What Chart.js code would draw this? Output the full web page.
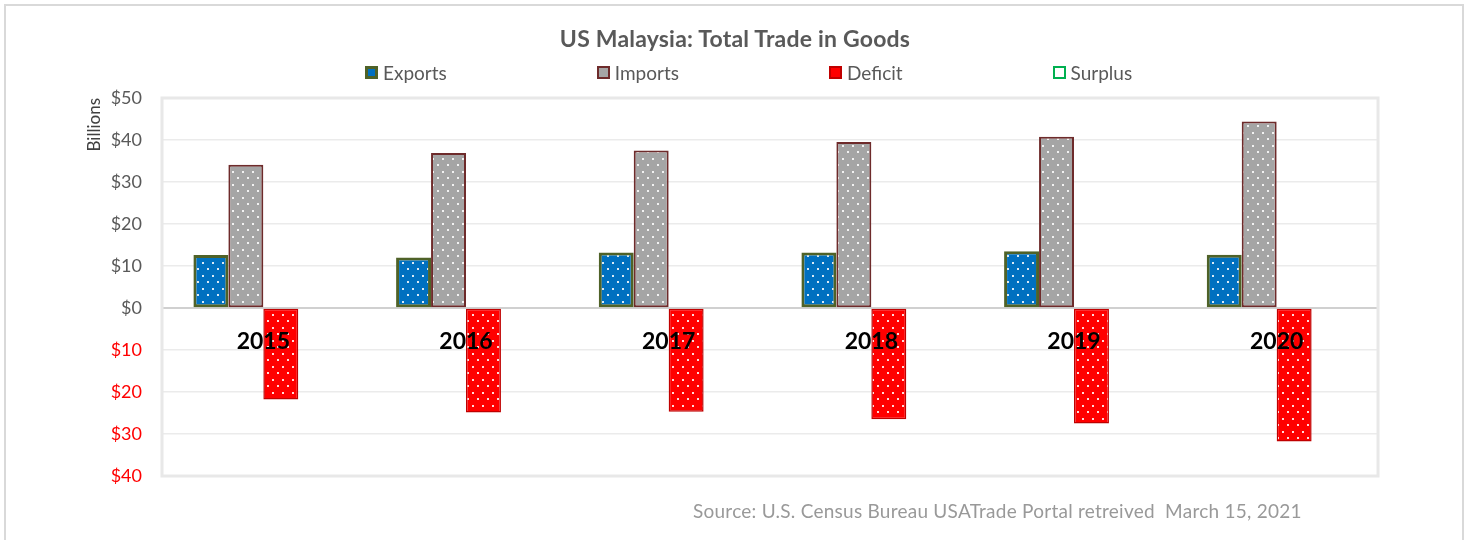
<!DOCTYPE html>
<html>
<head>
<meta charset="utf-8">
<script src="https://cdn.jsdelivr.net/npm/chart.js@4.4.1/dist/chart.umd.min.js"></script>
<style>
  html, body { margin: 0; padding: 0; background: #fff; }
  #wrap { position: relative; width: 1470px; height: 540px; overflow: hidden; }
  #frame { position: absolute; left: 4px; top: 4px; width: 1460px; height: 620px; border: 2px solid #d9d9d9; box-sizing: border-box; }
  #chart { position: absolute; left: 0; top: 0; }
  #title { position: absolute; left: 0; top: 24px; width: 1470px; text-align: center; font-family: Lato, sans-serif; font-weight: bold; font-size: 23px; line-height: 28px; letter-spacing: 0.2px; color: #595959; }
  #legend { position: absolute; top: 61px; left: 365px; display: flex; align-items: center; gap: 150px; font-family: Lato, sans-serif; font-size: 19px; color: #595959; white-space: nowrap; }
  .li { display: flex; align-items: center; }
  .lb { width: 13px; height: 13px; box-sizing: border-box; margin-right: 5px; }
  #source { position: absolute; left: 693px; top: 499px; font-family: Lato, sans-serif; font-size: 19px; letter-spacing: 0.25px; color: #999999; white-space: pre; }
</style>
</head>
<body>
<div id="wrap">
  <div id="frame"></div>
  <canvas id="chart" width="1470" height="540"></canvas>
  <div id="title"></div>
  <div id="legend"></div>
  <div id="source">Source: U.S. Census Bureau USATrade Portal retreived  March 15, 2021</div>
</div>
<script>
// ---- data (billions USD) ----
const years = ['2015', '2016', '2017', '2018', '2019', '2020'];
const exportsVals = [12.6, 12.0, 13.2, 13.2, 13.5, 12.7];
const importsVals = [34.1, 36.9, 37.5, 39.5, 40.8, 44.4];
const deficitVals = [-21.8, -24.9, -24.7, -26.5, -27.5, -31.8];
const surplusVals = [0, 0, 0, 0, 0, 0];
const seriesNames = ['Exports', 'Imports', 'Deficit', 'Surplus'];
const yMin = -40, yMax = 50, yStep = 10;
const chartTitle = 'US Malaysia: Total Trade in Goods';
const yTitle = 'Billions';

document.getElementById('title').textContent = chartTitle;

function dotted(color) {
  const c = document.createElement('canvas');
  c.width = 10; c.height = 13;
  const g = c.getContext('2d');
  g.fillStyle = color; g.fillRect(0, 0, 10, 13);
  g.fillStyle = 'rgba(255,255,255,0.85)';
  g.fillRect(2, 2, 2, 2);
  g.fillRect(7, 8, 2, 2);
  return g.createPattern(c, 'repeat');
}

const styles = [
  { fill: '#0070c0', border: '#4f6228', bw: 3 },
  { fill: '#a5a5a5', border: '#6e2b2b', bw: 2 },
  { fill: '#ff0000', border: '#c00000', bw: 1.5 },
  { fill: '#ffffff', border: '#00b050', bw: 2 }
];
const values = [exportsVals, importsVals, deficitVals, surplusVals];

const datasets = seriesNames.map((name, i) => ({
  label: name,
  data: values[i],
  backgroundColor: i === 3 ? styles[i].fill : dotted(styles[i].fill),
  borderColor: styles[i].border,
  borderWidth: styles[i].bw,
  borderSkipped: false,
  categoryPercentage: 0.69,
  barPercentage: 1.0
}));

const plotBorder = {
  id: 'plotBorder',
  beforeDatasetsDraw(chart) {
    const { ctx, chartArea: a } = chart;
    ctx.save();
    ctx.strokeStyle = '#e8e8e8';
    ctx.lineWidth = 3;
    ctx.strokeRect(a.left, a.top, a.right - a.left, a.bottom - a.top);
    ctx.restore();
  }
};

const chart = new Chart(document.getElementById('chart'), {
  type: 'bar',
  data: { labels: years, datasets },
  options: {
    responsive: false,
    animation: false,
    layout: { padding: { top: 98, right: 92, bottom: 64, left: 0 } },
    plugins: {
      legend: { display: false },
      tooltip: { enabled: false },
      title: { display: false }
    },
    scales: {
      x: {
        position: { y: 0 },
        offset: true,
        grid: { display: false, drawTicks: false },
        border: { display: true, color: '#d0d0d0', width: 2 },
        ticks: { z: 1, padding: 20, color: '#000000', maxRotation: 0,
                 font: { family: 'Lato', size: 23, weight: 'bold' } }
      },
      y: {
        min: yMin, max: yMax,
        afterFit(s) { s.width = 162; },
        grid: { color: '#ebebeb', lineWidth: 1.5, drawTicks: false },
        border: { display: false },
        ticks: {
          stepSize: yStep, padding: 20,
          color: (c) => c.tick.value < 0 ? '#ff0000' : '#595959',
          font: { family: 'Lato', size: 18 },
          callback: (v) => '$' + Math.abs(v)
        },
        title: { display: true, text: yTitle, align: 'end', color: '#404040',
                 font: { family: 'Lato', size: 17 }, padding: { top: 84, bottom: 0 } }
      }
    }
  },
  plugins: [plotBorder]
});

// HTML legend built from the chart's datasets
const legend = document.getElementById('legend');
chart.data.datasets.forEach((d, i) => {
  const item = document.createElement('div');
  item.className = 'li';
  const box = document.createElement('span');
  box.className = 'lb';
  box.style.background = styles[i].fill;
  box.style.border = Math.max(2, styles[i].bw) + 'px solid ' + styles[i].border;
  const t = document.createElement('span');
  t.textContent = d.label;
  item.appendChild(box); item.appendChild(t);
  legend.appendChild(item);
});
</script>
</body>
</html>
